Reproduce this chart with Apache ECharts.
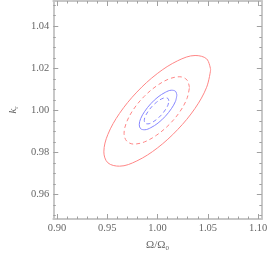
<!DOCTYPE html>
<html><head><meta charset="utf-8">
<script src="https://cdn.jsdelivr.net/npm/echarts@6/dist/echarts.min.js"></script>
<style>html,body{margin:0;padding:0;background:#fff}#c{width:270px;height:257px}</style>
</head><body><div id="c"></div>
<script>
// tick labels
const xTicks = [0.90, 0.95, 1.00, 1.05, 1.10];
const yTicks = [0.96, 0.98, 1.00, 1.02, 1.04];
const xMinor = [0.91,0.92,0.93,0.94,0.96,0.97,0.98,0.99,1.01,1.02,1.03,1.04,1.06,1.07,1.08,1.09];
const yMinor = [0.95,0.955,0.965,0.97,0.975,0.985,0.99,0.995,1.005,1.01,1.015,1.025,1.03,1.035,1.045,1.05];
// contour points
const redOuterX = [1.0528,1.0488,1.0373,1.0200,0.9997,0.9794,0.9622,0.9506,0.9466,0.9506,0.9622,0.9794,0.9997,1.0200,1.0373,1.0488,1.0528];
const redOuterY = [1.0193,1.0245,1.0261,1.0236,1.0175,1.0087,0.9986,0.9886,0.9803,0.9751,0.9735,0.9760,0.9821,0.9909,1.0010,1.0110,1.0193];
const redInnerX = [1.0317,1.0292,1.0222,1.0116,0.9992,0.9868,0.9762,0.9692,0.9667,0.9692,0.9762,0.9868,0.9992,1.0116,1.0222,1.0292,1.0317];
const redInnerY = [1.0109,1.0145,1.0160,1.0150,1.0117,1.0067,1.0006,0.9944,0.9891,0.9855,0.9840,0.9850,0.9883,0.9933,0.9994,1.0056,1.0109];
const blueOuterX = [1.0192,1.0178,1.0137,1.0077,1.0005,0.9933,0.9873,0.9832,0.9818,0.9832,0.9873,0.9933,1.0005,1.0077,1.0137,1.0178,1.0192];
const blueOuterY = [1.0073,1.0091,1.0096,1.0086,1.0064,1.0032,0.9996,0.9961,0.9932,0.9913,0.9908,0.9918,0.9940,0.9972,1.0008,1.0043,1.0073];
const blueInnerX = [1.0112,1.0103,1.0076,1.0037,0.9990,0.9943,0.9904,0.9877,0.9868,0.9877,0.9904,0.9943,0.9990,1.0037,1.0076,1.0103,1.0112];
const blueInnerY = [1.0045,1.0057,1.0060,1.0054,1.0039,1.0018,0.9994,0.9971,0.9952,0.9939,0.9936,0.9942,0.9957,0.9978,1.0002,1.0025,1.0045];

const zip = (a, b) => a.map((v, i) => [v, b[i]]);
const RED = '#ff8686', BLUE = '#8686ff';
const FRAME = '#c4c4c4', TICK = '#a0a0a0', TXT = '#666666';
const FONT = 'Liberation Serif';
const xMin = 0.8963, xMax = 1.1037, yMin = 0.9484, yMax = 1.0520;

function xa(pos, vals, len, labels, extra) {
  return Object.assign({
    type: 'value', position: pos, min: xMin, max: xMax,
    axisLine: {show: true, onZero: false, lineStyle: {color: FRAME, width: 1.5}},
    axisTick: {show: true, inside: true, length: len, customValues: vals, lineStyle: {color: TICK, width: 1}},
    axisLabel: labels ? {show: true, customValues: xTicks, formatter: v => v.toFixed(2), color: TXT, fontFamily: FONT, fontSize: 10.5, margin: 4} : {show: false},
    splitLine: {show: false}
  }, extra || {});
}
function ya(pos, vals, len, labels, extra) {
  return Object.assign({
    type: 'value', position: pos, min: yMin, max: yMax,
    axisLine: {show: true, onZero: false, lineStyle: {color: FRAME, width: 1.5}},
    axisTick: {show: true, inside: true, length: len, customValues: vals, lineStyle: {color: TICK, width: 1}},
    axisLabel: labels ? {show: true, customValues: yTicks, formatter: v => v.toFixed(2), color: TXT, fontFamily: FONT, fontSize: 10.5, margin: 4} : {show: false},
    splitLine: {show: false}
  }, extra || {});
}

const chart = echarts.init(document.getElementById('c'), null, {renderer: 'canvas'});
const lineSeries = (data, color, dashed) => ({
  type: 'line', data, smooth: 0.35, showSymbol: false, symbol: 'none',
  xAxisIndex: 0, yAxisIndex: 0, animation: false,
  lineStyle: {color, width: 1, type: dashed ? [4, 3] : 'solid'}
});
chart.setOption({
  animation: false,
  grid: {left: 36, right: 7, top: 1, bottom: 30, containLabel: false},
  xAxis: [
    xa('bottom', xTicks, 5, true, {name: '{a|Ω/Ω}{s|0}', nameLocation: 'middle', nameGap: 20,
      nameTextStyle: {rich: {a: {fontFamily: FONT, fontSize: 11, color: TXT}, s: {fontFamily: FONT, fontSize: 7, color: TXT, verticalAlign: 'bottom', padding: [6, 0, 0, 0]}}}}),
    xa('top', xTicks, 5, false),
    xa('bottom', xMinor, 2.5, false),
    xa('top', xMinor, 2.5, false)
  ],
  yAxis: [
    ya('left', yTicks, 5, true, {name: '{a|k}{s|r}', nameLocation: 'middle', nameGap: 28, nameRotate: 90,
      nameTextStyle: {rich: {a: {fontFamily: FONT, fontStyle: 'italic', fontSize: 11, color: TXT}, s: {fontFamily: FONT, fontSize: 7, color: TXT, verticalAlign: 'bottom', padding: [6, 0, 0, 0]}}}}),
    ya('right', yTicks, 5, false),
    ya('left', yMinor, 2.5, false),
    ya('right', yMinor, 2.5, false)
  ],
  series: [
    lineSeries(zip(redOuterX, redOuterY), RED, false),
    lineSeries(zip(redInnerX, redInnerY), RED, true),
    lineSeries(zip(blueOuterX, blueOuterY), BLUE, false),
    lineSeries(zip(blueInnerX, blueInnerY), BLUE, true)
  ]
});
</script></body></html>
